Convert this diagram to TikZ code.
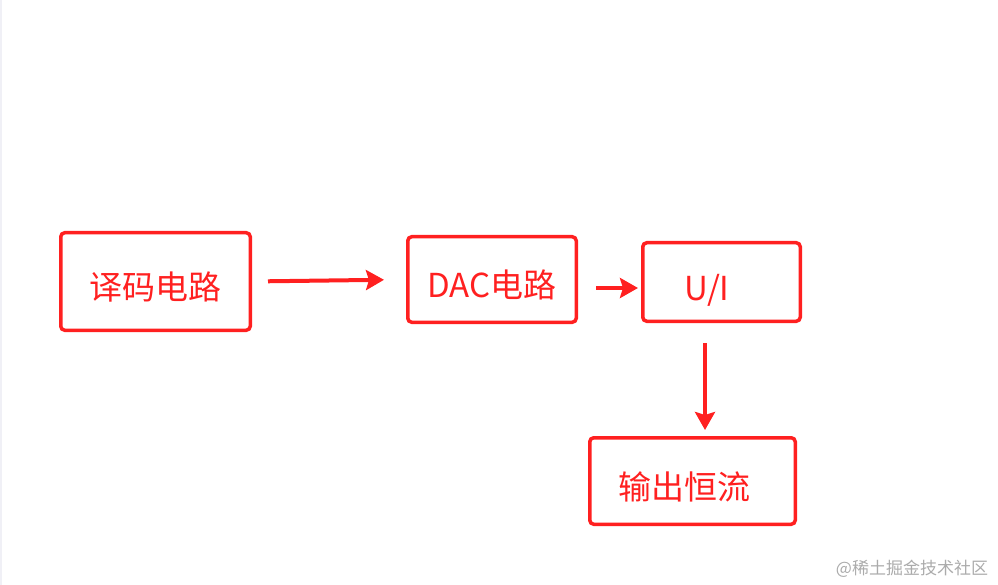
\documentclass[tikz,border=0pt]{standalone}
\usepackage{fontspec}
\setmainfont{Noto Sans CJK SC}
\usetikzlibrary{arrows.meta,positioning}
\definecolor{boxred}{HTML}{FF2020}
\definecolor{markgray}{HTML}{ABABAB}
\definecolor{edgegray}{HTML}{F0F0F6}

\begin{document}
\begin{tikzpicture}[
  x=1pt, y=-1pt,
  box/.style={draw=boxred, line width=3.5pt, rounded corners=4pt, outer sep=0pt, inner sep=0pt, align=center, text=boxred, font=\fontsize{33}{38}\selectfont, text height=36pt, text depth=0pt},
  arr/.style={draw=boxred, line width=4pt, -{Stealth[length=18pt, width=20pt, inset=3pt]}},
  wmark/.style={text=markgray, font=\fontsize{17}{20}\selectfont, inner sep=0pt}
]
\useasboundingbox (0,0) rectangle (998,585);
\fill[edgegray] (0,0) rectangle (2,585);

\node[box, minimum width=189.5pt, minimum height=97.5pt] (dec) at (155.5,281.5) {译码电路};
\node[box, minimum width=168.5pt, minimum height=85.5pt, right=157.5pt of dec, yshift=2pt] (dac) {DAC电路};
\node[box, minimum width=157.5pt, minimum height=78.5pt, right=66.5pt of dac, yshift=-2.5pt] (ui) {U/I\hspace*{29pt}};
\node[box, minimum width=205.5pt, minimum height=86.5pt, below=116.5pt of ui, xshift=-29pt] (out) {输出恒流\hspace*{17pt}};

\draw[arr, shorten <=17.75pt, shorten >=23.75pt] (dec.east) -- (dac.west);
\draw[arr, shorten <=19.75pt, shorten >=4.75pt] ([yshift=-8.5pt]dac.east) -- ([yshift=-6pt]ui.west);
\draw[arr, shorten <=21.75pt, shorten >=7.75pt] (ui.south -| 705,0) -- (out.north -| 705,0);

\node[wmark] (wm) at (912,569) {@稀土掘金技术社区};
\end{tikzpicture}
\end{document}
